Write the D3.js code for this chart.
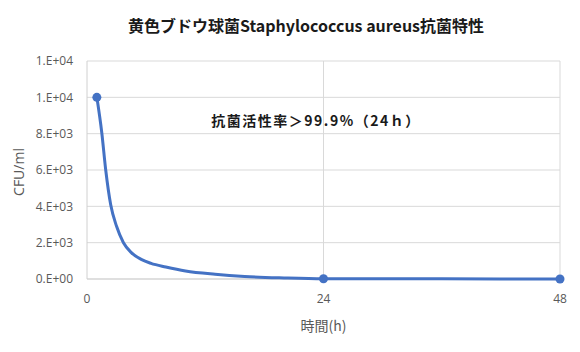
<!DOCTYPE html>
<html>
<head>
<meta charset="utf-8">
<script src="https://cdn.jsdelivr.net/npm/d3@7"></script>
<style>
  body { margin: 0; background: #fff; }
  text { font-family: "Noto Sans CJK JP", "Noto Sans", sans-serif; }
</style>
</head>
<body>
<div id="chart"></div>
<script>
// curve (hours, CFU/ml)
const hours = [1, 1.5, 1.9, 2.4, 3, 3.7, 4.5, 5.5, 6.5, 8, 10, 13, 16, 20, 24, 36, 48];
const cfu = [10000, 8050, 6000, 4100, 2900, 2000, 1450, 1080, 860, 660, 440, 260, 140, 60, 15, 10, 0];
// measured points with markers
const markHours = [1, 24, 48];
const markCfu = [10000, 15, 0];
const xTicks = [0, 24, 48];
const yTicks = [0, 2000, 4000, 6000, 8000, 10000, 12000];

const title = "黄色ブドウ球菌Staphylococcus aureus抗菌特性";
const note = "抗菌活性率＞99.9%（24ｈ）";

const width = 580, height = 352;
const margin = { top: 61, right: 20, bottom: 73, left: 87 };

const svg = d3.select("#chart").append("svg")
  .attr("width", width).attr("height", height);

const x = d3.scaleLinear().domain([0, 48]).range([margin.left, width - margin.right]);
const y = d3.scaleLinear().domain([0, 12000]).range([height - margin.bottom, margin.top]);

// Excel style "0.E+00"
const fmt = (v) => {
  if (v === 0) return "0.E+00";
  let e = Math.floor(Math.log10(v));
  let m = Math.round(v / Math.pow(10, e));
  if (m >= 10) { m = 1; e += 1; }
  return m + ".E+" + String(e).padStart(2, "0");
};

// grid
svg.append("g")
  .attr("stroke", "#d9d9d9")
  .selectAll("line.h")
  .data(yTicks.slice(1))
  .join("line")
  .attr("x1", x(0)).attr("x2", x(48))
  .attr("y1", (d) => y(d)).attr("y2", (d) => y(d));

svg.append("g")
  .attr("stroke", "#d9d9d9")
  .selectAll("line.v")
  .data(xTicks.slice(1))
  .join("line")
  .attr("x1", (d) => x(d)).attr("x2", (d) => x(d))
  .attr("y1", y(0)).attr("y2", y(12000));

// axes lines
svg.append("line")
  .attr("x1", x(0)).attr("x2", x(48))
  .attr("y1", y(0)).attr("y2", y(0))
  .attr("stroke", "#bfbfbf");
svg.append("line")
  .attr("x1", x(0)).attr("x2", x(0))
  .attr("y1", y(0)).attr("y2", y(12000))
  .attr("stroke", "#d0d0d0");

// tick labels
svg.append("g")
  .selectAll("text")
  .data(yTicks)
  .join("text")
  .attr("x", x(0) - 14)
  .attr("y", (d) => y(d))
  .attr("dy", "0.35em")
  .attr("text-anchor", "end")
  .attr("fill", "#595959")
  .style("font-size", "12px")
  .style("font-family", "'Open Sans', sans-serif")
  .text(fmt);

svg.append("g")
  .selectAll("text")
  .data(xTicks)
  .join("text")
  .attr("x", (d) => x(d))
  .attr("y", y(0) + 20)
  .attr("dy", "0.35em")
  .attr("text-anchor", "middle")
  .attr("fill", "#595959")
  .style("font-size", "12px")
  .style("font-family", "'Open Sans', sans-serif")
  .text((d) => d);

// series
const line = d3.line()
  .x((d, i) => x(hours[i]))
  .y((d) => y(d))
  .curve(d3.curveMonotoneX);

svg.append("path")
  .datum(cfu)
  .attr("fill", "none")
  .attr("stroke", "#4472c4")
  .attr("stroke-width", 3)
  .attr("stroke-linejoin", "round")
  .attr("d", line);

svg.append("g")
  .attr("fill", "#4472c4")
  .selectAll("circle")
  .data(markCfu)
  .join("circle")
  .attr("cx", (d, i) => x(markHours[i]))
  .attr("cy", (d) => y(d))
  .attr("r", 4.5);

// titles
svg.append("text")
  .attr("x", 306).attr("y", 26)
  .attr("dy", "0.35em")
  .attr("text-anchor", "middle")
  .attr("fill", "#1a1a1a")
  .style("font-size", "16px")
  .style("font-weight", "bold")
  .text(title);

svg.append("text")
  .attr("x", 316).attr("y", 121)
  .attr("dy", "0.35em")
  .attr("text-anchor", "middle")
  .attr("fill", "#1a1a1a")
  .style("font-size", "14px")
  .style("font-weight", "bold")
  .style("letter-spacing", "1.5px")
  .text(note);

svg.append("text")
  .attr("transform", `translate(19,${(y(0) + y(12000)) / 2 + 2}) rotate(-90)`)
  .attr("dy", "0.35em")
  .attr("text-anchor", "middle")
  .attr("fill", "#595959")
  .style("font-size", "14px")
  .style("font-family", "'Open Sans', sans-serif")
  .text("CFU/ml");

svg.append("text")
  .attr("x", x(24)).attr("y", 326)
  .attr("dy", "0.35em")
  .attr("text-anchor", "middle")
  .attr("fill", "#595959")
  .style("font-size", "14px")
  .text("時間(h)");
</script>
</body>
</html>
